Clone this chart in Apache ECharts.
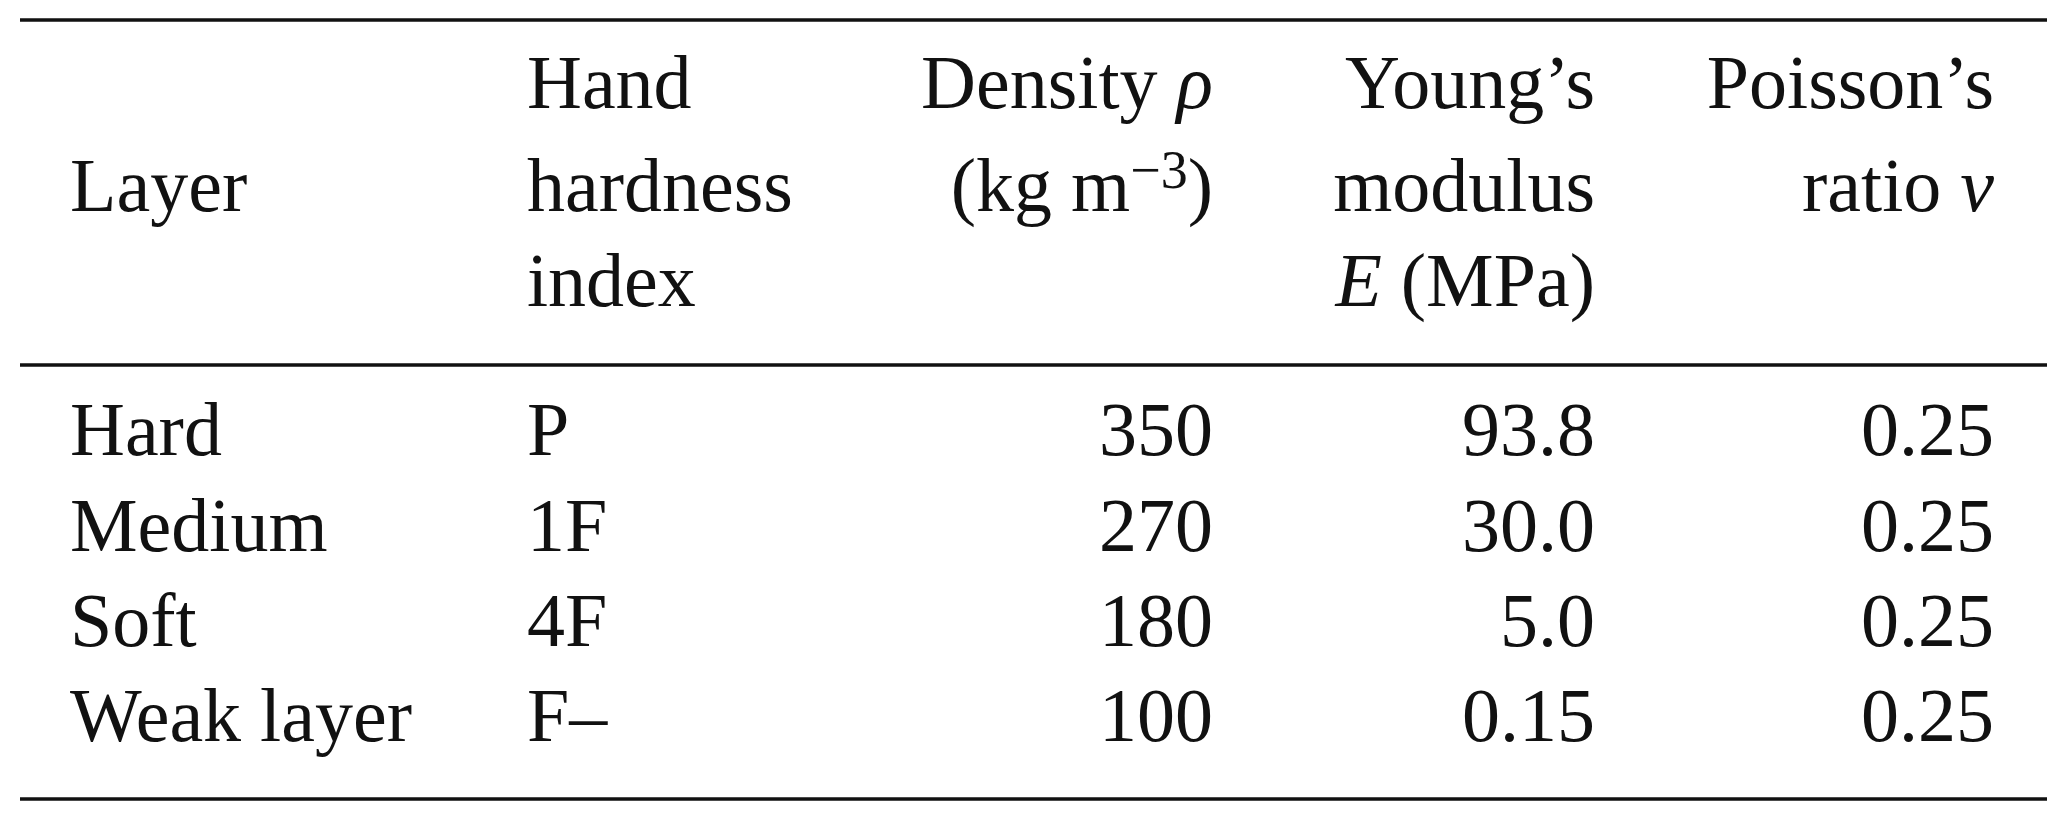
<!DOCTYPE html>
<html><head><meta charset="utf-8">
<script src="https://cdn.jsdelivr.net/npm/echarts@6/dist/echarts.min.js"></script>
<style>html,body{margin:0;background:#fff}#c{width:2067px;height:820px}</style>
</head><body><div id="c"></div>
<script>
const layers = ["Hard","Medium","Soft","Weak layer"];
const hardness = ["P","1F","4F","F–"];
const density = ["350","270","180","100"];
const youngs = ["93.8","30.0","5.0","0.15"];
const poisson = ["0.25","0.25","0.25","0.25"];

const W = 2067;
const FS = 76;
const font = "'Liberation Serif','Times New Roman',serif";
const rich = {
  i:{fontStyle:'italic',fontFamily:font,fontSize:FS,fill:'#111'},
  sup:{fontFamily:font,fontSize:54,padding:[0,0,34,0],fill:'#111'}
};
const cols = [
  {x:70, align:'left', head:["","Layer",""], data:layers},
  {x:527, align:'left', head:["Hand","hardness","index"], data:hardness},
  {x:1213, align:'right', head:["Density {i|ρ}","(kg m{sup|−3})",""], data:density},
  {x:1595, align:'right', head:["Young’s","modulus","{i|E} (MPa)"], data:youngs},
  {x:1994, align:'right', head:["Poisson’s","ratio {i|ν}",""], data:poisson}
];
const headY = [88,191,286];
const rowY = [435,531,626,721];
const g = [];
function txt(x,y,s,align){
  g.push({type:'text',x:x,y:y,style:{text:s,font:FS+'px '+font,fontSize:FS,fontFamily:font,fill:'#111',align:align,verticalAlign:'middle',rich:rich}});
}
cols.forEach(c=>{
  c.head.forEach((h,k)=>{ if(h) txt(c.x,headY[k],h,c.align); });
  c.data.forEach((d,k)=>txt(c.x,rowY[k],d,c.align));
});
[20,365,799].forEach(y=>g.push({type:'line',shape:{x1:20,y1:y,x2:2047,y2:y},style:{stroke:'#111',lineWidth:3.5}}));
const chart = echarts.init(document.getElementById('c'));
chart.setOption({backgroundColor:'#fff',graphic:g});
</script></body></html>
